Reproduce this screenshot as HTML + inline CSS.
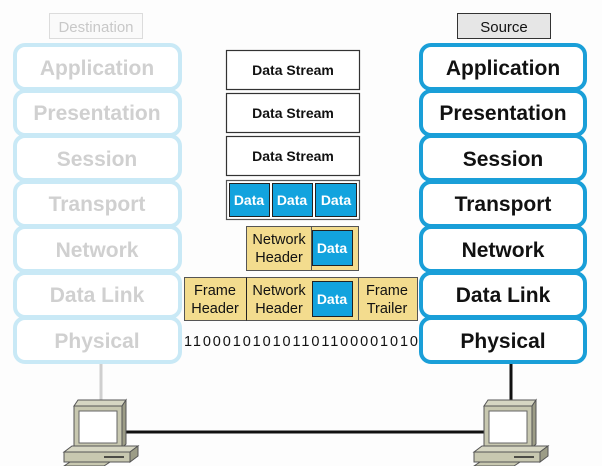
<!DOCTYPE html>
<html><head><style>body{margin:0;background:#fdfdfd}svg{display:block}</style></head><body>
<svg width="602" height="466" viewBox="0 0 602 466" xmlns="http://www.w3.org/2000/svg" font-family="Liberation Sans, Arial, sans-serif">
<rect width="602" height="466" fill="#fdfdfd"/>
<rect x="49.5" y="13.5" width="93" height="25" fill="#fafafa" stroke="#dcdcdc"/>
<text x="96" y="32" font-size="15" fill="#c8c8c8" text-anchor="middle">Destination</text>
<rect x="457.5" y="13.5" width="93" height="25" fill="#e6e6e6" stroke="#333"/>
<text x="504" y="32" font-size="15" fill="#111" text-anchor="middle">Source</text>
<g fill="#fff" stroke="#c9e9f6" stroke-width="4">
<rect x="15" y="45" width="165" height="44" rx="10"/>
<rect x="15" y="91" width="165" height="44" rx="10"/>
<rect x="15" y="136" width="165" height="44" rx="10"/>
<rect x="15" y="182" width="165" height="44" rx="10"/>
<rect x="15" y="227" width="165" height="44" rx="10"/>
<rect x="15" y="273" width="165" height="44" rx="10"/>
<rect x="15" y="318" width="165" height="44" rx="10"/>
</g>
<g font-size="21" font-weight="bold" fill="#d0d0d0" text-anchor="middle">
<text x="97" y="75">Application</text>
<text x="97" y="120">Presentation</text>
<text x="97" y="166">Session</text>
<text x="97" y="211">Transport</text>
<text x="97" y="257">Network</text>
<text x="97" y="302">Data Link</text>
<text x="97" y="348">Physical</text>
</g>
<g fill="#fff" stroke="#1a9fd8" stroke-width="4">
<rect x="421" y="45" width="164" height="44" rx="10"/>
<rect x="421" y="91" width="164" height="44" rx="10"/>
<rect x="421" y="136" width="164" height="44" rx="10"/>
<rect x="421" y="182" width="164" height="44" rx="10"/>
<rect x="421" y="227" width="164" height="44" rx="10"/>
<rect x="421" y="273" width="164" height="44" rx="10"/>
<rect x="421" y="318" width="164" height="44" rx="10"/>
</g>
<g font-size="21" font-weight="bold" fill="#111" text-anchor="middle">
<text x="503" y="75">Application</text>
<text x="503" y="120">Presentation</text>
<text x="503" y="166">Session</text>
<text x="503" y="211">Transport</text>
<text x="503" y="257">Network</text>
<text x="503" y="302">Data Link</text>
<text x="503" y="348">Physical</text>
</g>
<g fill="#fff" stroke="#333" stroke-width="1.2">
<rect x="226.5" y="50.5" width="133" height="39"/>
<rect x="226.5" y="93.5" width="133" height="39"/>
<rect x="226.5" y="136.5" width="133" height="39"/>
</g>
<g font-size="14" font-weight="bold" fill="#111" text-anchor="middle">
<text x="293" y="75">Data Stream</text>
<text x="293" y="118">Data Stream</text>
<text x="293" y="161">Data Stream</text>
</g>
<rect x="226.5" y="180.5" width="133" height="39" fill="#fff" stroke="#555" stroke-width="1.2"/>
<g fill="#12a3de" stroke="#222" stroke-width="1">
<rect x="229.5" y="183.5" width="40" height="33"/>
<rect x="272.5" y="183.5" width="40" height="33"/>
<rect x="315.5" y="183.5" width="41" height="33"/>
</g>
<rect x="246.5" y="226.5" width="65" height="44" fill="#f3dc8e" stroke="#555"/>
<rect x="311.5" y="226.5" width="47" height="44" fill="#f3dc8e" stroke="#555"/>
<rect x="312.5" y="230.5" width="40" height="35" fill="#12a3de" stroke="#222"/>
<rect x="184.5" y="277.5" width="233" height="43" fill="#f3dc8e" stroke="#555"/>
<line x1="246.5" y1="277.5" x2="246.5" y2="320.5" stroke="#222"/>
<line x1="358.5" y1="277.5" x2="358.5" y2="320.5" stroke="#555"/>
<rect x="312.5" y="281.5" width="40" height="35" fill="#12a3de" stroke="#222"/>
<g font-size="14" font-weight="bold" fill="#fff" text-anchor="middle">
<text x="249" y="205">Data</text>
<text x="292" y="205">Data</text>
<text x="336" y="205">Data</text>
<text x="332" y="253">Data</text>
<text x="332" y="304">Data</text>
</g>
<g font-size="14.5" fill="#111" text-anchor="middle">
<text x="279" y="244">Network</text>
<text x="279" y="262">Header</text>
<text x="215" y="295">Frame</text>
<text x="215" y="313">Header</text>
<text x="279" y="295">Network</text>
<text x="279" y="313">Header</text>
<text x="387" y="295">Frame</text>
<text x="387" y="313">Trailer</text>
</g>
<text x="301" y="346" font-size="14.5" fill="#111" text-anchor="middle" textLength="234">110001010101101100001010</text>
<line x1="101" y1="364" x2="101" y2="402" stroke="#cfcfcf" stroke-width="3"/>
<line x1="511" y1="364" x2="511" y2="402" stroke="#111" stroke-width="3"/>
<line x1="125" y1="432" x2="485" y2="432" stroke="#111" stroke-width="3"/>
<g id="pc" stroke="#555" stroke-width="1">
<polygon points="74,406 78,400 126,400 122,406" fill="#d6d6c2"/>
<polygon points="122,406 126,400 126,444 122,448" fill="#9c9c86"/>
<rect x="74" y="406" width="48" height="42" fill="#c8c8b0"/>
<rect x="79" y="411" width="38" height="32" fill="#fff" stroke="#666"/>
<polygon points="64,452 72,446 138,446 130,452" fill="#d6d6c2"/>
<rect x="64" y="452" width="66" height="10" fill="#c8c8b0"/>
<polygon points="130,452 138,446 138,456 130,462" fill="#9c9c86"/>
<line x1="104" y1="457" x2="124" y2="457" stroke="#222" stroke-width="1.5"/>
<polygon points="64,466 70,462 110,462 104,466" fill="#c8c8b0"/>
</g>
<use href="#pc" transform="translate(410,0)"/>
</svg>
</body></html>
